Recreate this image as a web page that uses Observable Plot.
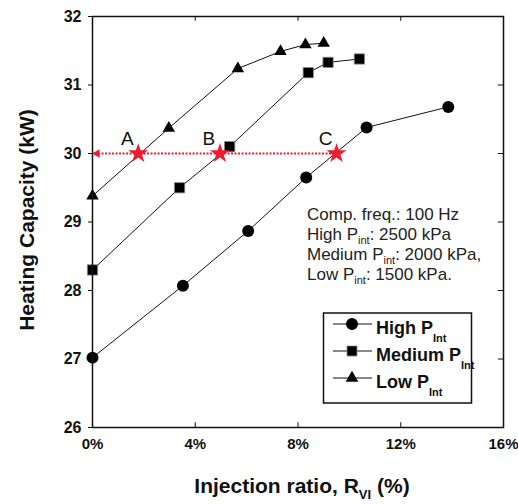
<!DOCTYPE html>
<html><head><meta charset="utf-8">
<script src="https://cdn.jsdelivr.net/npm/d3@7"></script>
<script src="https://cdn.jsdelivr.net/npm/@observablehq/plot@0.6"></script>
<style>
body{margin:0;background:#fff;}
#chart{position:relative;width:518px;height:504px;}
</style></head><body><div id="chart"></div>
<script>
// ---- data ----
const highX = [0, 3.52, 6.06, 8.32, 10.67, 13.85];
const highY = [27.02, 28.07, 28.87, 29.65, 30.38, 30.68];
const medX  = [0, 3.39, 5.34, 8.40, 9.17, 10.39];
const medY  = [28.30, 29.50, 30.10, 31.18, 31.33, 31.38];
const lowX  = [0, 2.97, 5.66, 7.32, 8.29, 9.00];
const lowY  = [29.38, 30.37, 31.24, 31.49, 31.59, 31.61];
const starLabels = ["A", "B", "C"];
const starX = [1.78, 4.96, 9.50];
const starY = [30, 30, 30];
const arrowTipX = 0.1;
const xTicks = [0, 4, 8, 12, 16];
const yTicks = [26, 27, 28, 29, 30, 31, 32];
const innerXTicks = [4, 8, 12];
const innerYTicks = [27, 28, 29, 30, 31];
const seriesNames = ["High", "Medium", "Low"];
const noteLines = [
  ["Comp. freq.: 100 Hz", null, ""],
  ["High P", "int", ": 2500 kPa"],
  ["Medium P", "int", ": 2000 kPa,"],
  ["Low P", "int", ": 1500 kPa."]
];

const toPts = (xs, ys) => xs.map((x, i) => ({x, y: ys[i]}));
const high = toPts(highX, highY), med = toPts(medX, medY), low = toPts(lowX, lowY);
const stars = starX.map((x, i) => ({x, y: starY[i], label: starLabels[i]}));
const RED = "#ee1c2e";
const FONT = "'Liberation Sans', Arial, sans-serif";

const plot = Plot.plot({
  width: 518, height: 504,
  marginLeft: 92, marginRight: 15, marginTop: 16, marginBottom: 77,
  x: {domain: [0, 16]},
  y: {domain: [26, 32]},
  style: {fontFamily: FONT, background: "white", color: "#111"},
  marks: [
    Plot.axisX({ticks: xTicks, tickSize: 0, tickPadding: 11, tickFormat: d => d + "%",
      fontSize: 15, fontWeight: "bold", label: null}),
    Plot.axisY({ticks: yTicks, tickSize: 4, tickPadding: 7, tickFormat: d => String(d),
      fontSize: 16, fontWeight: "bold", label: null}),
    // inward ticks
    Plot.ruleX(innerXTicks, {x: d => d, y1: 26, y2: 26.07, stroke: "#111"}),
    Plot.ruleX(innerXTicks, {x: d => d, y1: 32, y2: 31.93, stroke: "#111"}),
    Plot.ruleY(innerYTicks, {y: d => d, x1: 16, x2: 15.8, stroke: "#111"}),
    // red dotted guide
    Plot.ruleY([30], {x1: arrowTipX, x2: starX[2], stroke: RED, strokeWidth: 2, strokeDasharray: "2,1.5"}),
    Plot.dot([{x: arrowTipX, y: 30}], {x: "x", y: "y", symbol: "triangle", rotate: -90, r: 3.2, fill: RED, dx: 2}),
    // series
    Plot.line(low, {x: "x", y: "y", stroke: "#111", strokeWidth: 1}),
    Plot.line(med, {x: "x", y: "y", stroke: "#111", strokeWidth: 1}),
    Plot.line(high, {x: "x", y: "y", stroke: "#111", strokeWidth: 1}),
    Plot.dot(high, {x: "x", y: "y", symbol: "circle", r: 6, fill: "#000"}),
    Plot.dot(med, {x: "x", y: "y", symbol: "square", r: 5.8, fill: "#000", stroke: "#888", strokeWidth: 0.8}),
    Plot.dot(low, {x: "x", y: "y", symbol: "triangle", r: 4.6, fill: "#000"}),
    // stars
    Plot.dot(stars, {x: "x", y: "y", symbol: "star", r: 6.3, fill: RED}),
    Plot.text(stars, {x: "x", y: "y", text: "label", dx: -11, dy: -15, fontSize: 19, fill: "#111"}),
    Plot.frame({stroke: "#111", strokeWidth: 1.5})
  ]
});

const svg = d3.select(plot);
// axis titles
const xt = svg.append("text").attr("x", 302).attr("y", 493).attr("text-anchor", "middle").attr("font-family", FONT)
  .attr("font-weight", "bold").attr("font-size", 21).attr("fill", "#111");
xt.append("tspan").text("Injection ratio, R");
xt.append("tspan").attr("font-size", 13).attr("dy", 6).text("VI");
xt.append("tspan").attr("dy", -6).text(" (%)");

svg.append("text").attr("transform", "translate(34,220) rotate(-90)")
  .attr("text-anchor", "middle").attr("font-family", FONT).attr("font-weight", "bold")
  .attr("font-size", 21).attr("fill", "#111").text("Heating Capacity (kW)");

// note block
noteLines.forEach((ln, i) => {
  const t = svg.append("text").attr("x", 307).attr("y", 220 + i * 20).attr("text-anchor", "start")
    .attr("font-family", FONT).attr("font-size", 17).attr("fill", "#222");
  t.append("tspan").text(ln[0]);
  if (ln[1]) {
    t.append("tspan").attr("font-size", 11).attr("dy", 4).text(ln[1]);
    t.append("tspan").attr("dy", -4).text(ln[2]);
  }
});

// legend
const lg = svg.append("g");
lg.append("rect").attr("x", 323.5).attr("y", 313).attr("width", 148).attr("height", 90)
  .attr("fill", "white").attr("stroke", "#111").attr("stroke-width", 1.5);
const syms = [d3.symbolCircle, d3.symbolSquare, d3.symbolTriangle];
const sizes = [113, 100, 70];
seriesNames.forEach((name, i) => {
  const cy = 324 + i * 27;
  lg.append("line").attr("x1", 333).attr("x2", 372).attr("y1", cy).attr("y2", cy).attr("stroke", "#111");
  lg.append("path").attr("transform", `translate(352,${cy})`)
    .attr("d", d3.symbol(syms[i], sizes[i])()).attr("fill", "#000")
    .attr("stroke", i === 1 ? "#888" : "none").attr("stroke-width", 0.8);
  const t = lg.append("text").attr("x", 376).attr("y", cy + 10).attr("text-anchor", "start")
    .attr("font-family", FONT).attr("font-weight", "bold").attr("font-size", 18).attr("fill", "#111");
  t.append("tspan").text(name + " P");
  t.append("tspan").attr("font-size", 11).attr("dy", 8).text("Int");
});

document.getElementById("chart").appendChild(plot);
</script></body></html>
